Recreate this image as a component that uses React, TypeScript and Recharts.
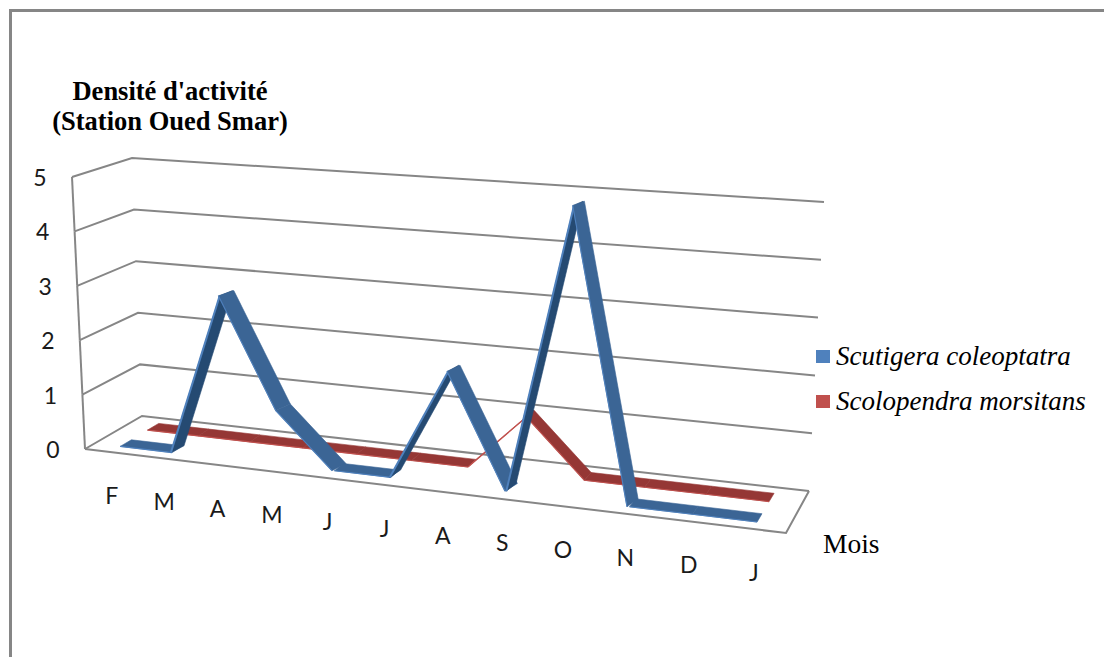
import React from "react";
import { LineChart, Line, XAxis, YAxis, CartesianGrid, Legend } from "recharts";

// Monthly activity density at the Oued Smar station
const months = ["F", "M", "A", "M", "J", "J", "A", "S", "O", "N", "D", "J"];
const scutigera = [0, 0, 2.95, 0.98, 0.02, 0.02, 1.98, 0.02, 5, 0, 0, 0];
const scolopendra = [0, 0, 0, 0, 0, 0, 0, 1, 0, 0, 0, 0];
const densityTicks = [0, 1, 2, 3, 4, 5];

const rows = months.map((month, i) => ({
  key: i,
  month,
  scutigera: scutigera[i],
  scolopendra: scolopendra[i],
}));

const CHART_W = 1104;
const CHART_H = 657;
const MARGIN = { top: 60, right: 100, bottom: 60, left: 60 };
const Y_AXIS_W = 40;
const X_AXIS_H = 30;
const PLOT_L = MARGIN.left + Y_AXIS_W;
const PLOT_T = MARGIN.top;
const PLOT_W = CHART_W - PLOT_L - MARGIN.right;
const PLOT_H = CHART_H - MARGIN.top - MARGIN.bottom - X_AXIS_H;

type Pt = [number, number];

// The eight corners of the drawn box: front plane and back wall
const FRONT = { bl: [85, 449] as Pt, br: [786, 533] as Pt, tl: [72, 177] as Pt, tr: [803, 224] as Pt };
const BACK = { bl: [142, 416] as Pt, br: [809, 491] as Pt, tl: [132, 158] as Pt, tr: [824, 202] as Pt };
const FORESHORTEN = 1.14;

const mix = (a: Pt, b: Pt, t: number): Pt => [a[0] + (b[0] - a[0]) * t, a[1] + (b[1] - a[1]) * t];

// Perspective-like projection: run (0..1) along months, rise (0..1) up the value axis, depth (0..1) to the back
function project(run: number, rise: number, depth: number): Pt {
  const s = run / (FORESHORTEN - (FORESHORTEN - 1) * run);
  const front = mix(mix(FRONT.bl, FRONT.br, s), mix(FRONT.tl, FRONT.tr, s), rise);
  const back = mix(mix(BACK.bl, BACK.br, s), mix(BACK.tl, BACK.tr, s), rise);
  return mix(front, back, depth);
}

const runOf = (x: number) => (x - PLOT_L) / PLOT_W;
const riseOf = (y: number) => 1 - (y - PLOT_T) / PLOT_H;
const pathOf = (pts: Pt[], close = false) =>
  "M" + pts.map((p) => `${p[0].toFixed(1)},${p[1].toFixed(1)}`).join("L") + (close ? "Z" : "");
const shifted = (p: Pt, dx: number): Pt => [p[0] + dx, p[1]];

const GRID = "#868686";

// One value gridline: side wall then back wall; the floor also gets its outline
function WallLine(props: any) {
  const rise = riseOf(props.y1);
  const step = 1 / (densityTicks.length - 1);
  const isFloor = rise < step / 2;
  const wall = pathOf([project(0, rise, 0), project(0, rise, 1), project(1, rise, 1)]);
  const edge = isFloor
    ? pathOf([project(1, 0, 1), project(1, 0, 0), project(0, 0, 0)])
    : pathOf([project(0, rise, 0), project(0, rise - step, 0)]);
  return (
    <g key={props.key}>
      <path d={wall} fill="none" stroke={GRID} strokeWidth={2} />
      <path d={edge} fill="none" stroke={GRID} strokeWidth={2} />
    </g>
  );
}

function DensityTick(props: any) {
  const [x, y] = project(0, riseOf(props.payload.coordinate), 0);
  return (
    <text x={x - 32} y={y + 9} textAnchor="middle" fontFamily="Lato" fontSize={23} fill="#1a1a1a">
      {props.payload.value}
    </text>
  );
}

function MonthTick(props: any) {
  const [x, y] = project(runOf(props.payload.coordinate), 0, 0);
  return (
    <text x={x + 1} y={y + 52} textAnchor="middle" fontFamily="Lato" fontSize={23} fill="#1a1a1a">
      {months[props.index ?? 0]}
    </text>
  );
}

function DensityTitle() {
  return (
    <text fontFamily="Liberation Serif" fontWeight="bold" fontSize={26.5} fill="#000" textAnchor="middle">
      <tspan x={170} y={100}>Densité d'activité</tspan>
      <tspan x={170} y={130}>(Station Oued Smar)</tspan>
    </text>
  );
}

function MonthTitle() {
  return (
    <text x={823} y={553} fontFamily="Liberation Serif" fontSize={27.5} fill="#000">
      Mois
    </text>
  );
}

// Builds a ribbon renderer: each point paints the flat band that joins it to the next one.
// Steep bands are widened sideways so they keep the body of a solid line.
function ribbon(
  nearDepth: number,
  farDepth: number,
  riseSpread: number,
  fallSpread: number,
  face: string,
  under: string,
  edge: string,
) {
  return function RibbonSegment(props: any) {
    const { points, index } = props;
    const a = points[index];
    const b = points[index + 1];
    if (!b) return <g key={index} />;
    const ar = runOf(a.x);
    const br = runOf(b.x);
    const ah = riseOf(a.y);
    const bh = riseOf(b.y);
    const rising = bh > ah;
    const side = Math.abs(bh - ah) > 0.05 ? (rising ? riseSpread : fallSpread) : 0;
    const near = [shifted(project(ar, ah, nearDepth), -side), shifted(project(br, bh, nearDepth), -side)];
    const far = [shifted(project(br, bh, farDepth), side), shifted(project(ar, ah, farDepth), side)];
    return (
      <g key={index}>
        <path d={pathOf([...near, ...far], true)} fill={rising ? under : face} stroke={rising ? under : face} strokeWidth={0.6} />
        <path d={pathOf(near)} fill="none" stroke={edge} strokeWidth={rising && side ? 2 : 1.1} />
      </g>
    );
  };
}

const legendNames = ["Scutigera coleoptatra", "Scolopendra morsitans"];

function SpeciesLegend(props: any) {
  const entries = [...(props.payload ?? [])].sort(
    (p: any, q: any) => legendNames.indexOf(p.value) - legendNames.indexOf(q.value),
  );
  return (
    <div style={{ position: "relative", width: 288, height: 90 }}>
      {entries.map((entry: any, i: number) => (
        <div key={entry.value} style={{ position: "absolute", left: 0, top: i * 45, height: 30, whiteSpace: "nowrap" }}>
          <span style={{ position: "absolute", left: 0, top: 6, width: 14, height: 13, background: entry.color }} />
          <span
            style={{
              position: "absolute",
              left: 20,
              top: -6,
              fontFamily: "Liberation Serif",
              fontStyle: "italic",
              fontSize: 27,
              lineHeight: "36px",
              color: "#000",
            }}
          >
            {entry.value}
          </span>
        </div>
      ))}
    </div>
  );
}

export default function App() {
  return (
    <div
      style={{
        position: "absolute",
        left: 0,
        top: 0,
        width: CHART_W,
        height: CHART_H,
        overflow: "hidden",
        background: "#fff",
      }}
    >
      <div
        style={{
          position: "absolute",
          left: 9,
          top: 9,
          width: 1095,
          height: 648,
          borderTop: "3px solid #868686",
          borderLeft: "3px solid #868686",
          boxSizing: "border-box",
        }}
      />
      <LineChart width={CHART_W} height={CHART_H} data={rows} margin={MARGIN}>
        <CartesianGrid horizontal={WallLine as any} vertical={false} />
        <XAxis
          dataKey="key"
          scale="band"
          height={X_AXIS_H}
          axisLine={false}
          tickLine={false}
          interval={0}
          tick={MonthTick as any}
          label={{ content: MonthTitle as any }}
        />
        <YAxis
          width={Y_AXIS_W}
          domain={[0, 5]}
          ticks={densityTicks}
          axisLine={false}
          tickLine={false}
          tick={DensityTick as any}
          label={{ content: DensityTitle as any }}
        />
        <Legend
          layout="vertical"
          align="center"
          verticalAlign="middle"
          content={SpeciesLegend as any}
          wrapperStyle={{ position: "absolute", left: 816, top: 344, width: 288 }}
        />
        <Line
          dataKey="scolopendra"
          name={legendNames[1]}
          stroke="#C0504D"
          strokeWidth={0}
          isAnimationActive={false}
          dot={ribbon(0.66, 0.86, 0, 0, "#953735", "#C0504D", "#C0504D") as any}
          activeDot={false}
        />
        <Line
          dataKey="scutigera"
          name={legendNames[0]}
          stroke="#4F81BD"
          strokeWidth={0}
          isAnimationActive={false}
          dot={ribbon(0.17, 0.37, 1.2, 2.5, "#3B6595", "#254A72", "#4F81BD") as any}
          activeDot={false}
        />
      </LineChart>
    </div>
  );
}
